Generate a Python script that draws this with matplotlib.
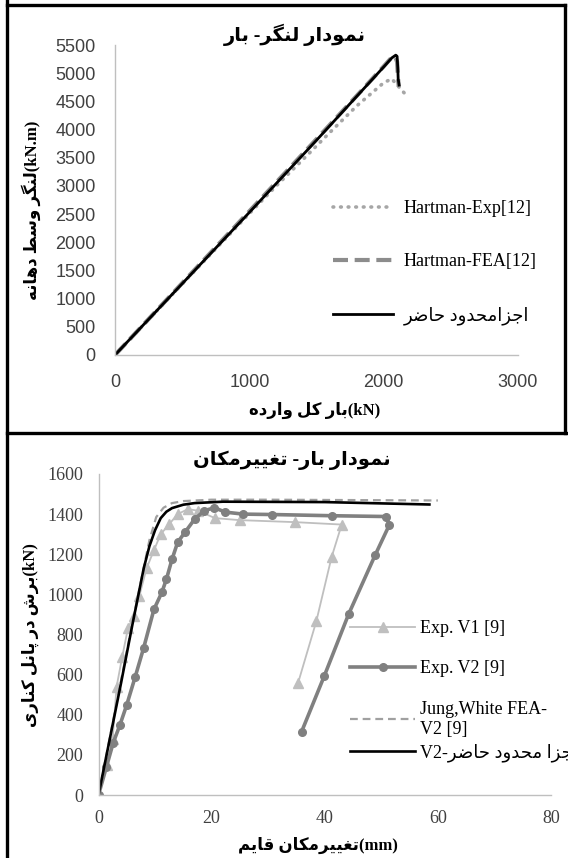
import matplotlib
matplotlib.use('Agg')
import matplotlib.pyplot as plt
from matplotlib.lines import Line2D

# ---- Persian shaping (matplotlib has no bidi / joining) ----
FORMS = {
    'ا': ('\uFE8D', '\uFE8E', None, None),
    'ب': ('\uFE8F', '\uFE90', '\uFE91', '\uFE92'),
    'پ': ('\uFB56', '\uFB57', '\uFB58', '\uFB59'),
    'ت': ('\uFE95', '\uFE96', '\uFE97', '\uFE98'),
    'ج': ('\uFE9D', '\uFE9E', '\uFE9F', '\uFEA0'),
    'ح': ('\uFEA1', '\uFEA2', '\uFEA3', '\uFEA4'),
    'د': ('\uFEA9', '\uFEAA', None, None),
    'ر': ('\uFEAD', '\uFEAE', None, None),
    'ز': ('\uFEAF', '\uFEB0', None, None),
    'س': ('\uFEB1', '\uFEB2', '\uFEB3', '\uFEB4'),
    'ش': ('\uFEB5', '\uFEB6', '\uFEB7', '\uFEB8'),
    'ض': ('\uFEBD', '\uFEBE', '\uFEBF', '\uFEC0'),
    'ط': ('\uFEC1', '\uFEC2', '\uFEC3', '\uFEC4'),
    'غ': ('\uFECD', '\uFECE', '\uFECF', '\uFED0'),
    'ق': ('\uFED5', '\uFED6', '\uFED7', '\uFED8'),
    'ک': ('\uFB8E', '\uFB8F', '\uFB90', '\uFB91'),
    'گ': ('\uFB92', '\uFB93', '\uFB94', '\uFB95'),
    'ل': ('\uFEDD', '\uFEDE', '\uFEDF', '\uFEE0'),
    'م': ('\uFEE1', '\uFEE2', '\uFEE3', '\uFEE4'),
    'ن': ('\uFEE5', '\uFEE6', '\uFEE7', '\uFEE8'),
    'و': ('\uFEED', '\uFEEE', None, None),
    'ه': ('\uFEE9', '\uFEEA', '\uFEEB', '\uFEEC'),
    'ی': ('\uFBFC', '\uFBFD', '\uFBFE', '\uFBFF'),
}


def fa(s):
    out = []
    for i, ch in enumerate(s):
        if ch not in FORMS:
            out.append(ch)
            continue
        prev = s[i - 1] if i > 0 else ''
        nxt = s[i + 1] if i + 1 < len(s) else ''
        jp = prev in FORMS and FORMS[prev][2] is not None
        jn = FORMS[ch][2] is not None and nxt in FORMS
        iso, fin, ini, med = FORMS[ch]
        if jp and jn:
            out.append(med)
        elif jp:
            out.append(fin)
        elif jn:
            out.append(ini)
        else:
            out.append(iso)
    return ''.join(out)[::-1]


# ---- data: moment - load ----
exp_load = [0, 500, 1000, 1200, 1400, 1600, 1800, 2000, 2060, 2175]
exp_moment = [0, 1260, 2510, 3000, 3470, 3950, 4420, 4830, 4900, 4590]
fea_load = [0, 500, 1000, 1500, 1800, 2000, 2060, 2085, 2100, 2106, 2112]
fea_moment = [0, 1275, 2550, 3830, 4600, 5120, 5280, 5300, 5200, 4950, 4760]
now_load = [0, 500, 1000, 1500, 2000, 2060, 2090, 2100, 2105, 2108, 2115]
now_moment = [0, 1265, 2530, 3810, 5110, 5270, 5320, 5300, 5100, 4900, 4790]

# ---- data: load - displacement ----
v1_disp = [0, 1.5, 2.5, 3.2, 4.2, 5.2, 6.2, 7.2, 8.5, 9.8, 11.0, 12.5, 14.0,
           15.8, 17.6, 20.6, 25.0, 34.8, 43.0, 41.2, 38.5, 35.3]
v1_load = [0, 150, 280, 540, 690, 830, 890, 990, 1130, 1220, 1300, 1350, 1400,
           1425, 1417, 1380, 1370, 1360, 1348, 1185, 865, 560]
v2_disp = [0, 1.4, 2.6, 3.8, 5.0, 6.5, 8.0, 9.8, 11.2, 12.0, 13.0, 14.0, 15.3,
           17.0, 18.7, 20.5, 22.4, 25.6, 30.7, 41.3, 50.9, 51.4, 48.9, 44.2,
           39.9, 35.9]
v2_load = [0, 140, 260, 350, 450, 590, 735, 925, 1010, 1075, 1175, 1260, 1310,
           1375, 1417, 1432, 1410, 1400, 1398, 1392, 1388, 1345, 1195, 900,
           592, 315]
jw_disp = [0, 3, 6, 9, 10.2, 11.5, 13, 15, 20, 30, 45, 60]
jw_load = [0, 430, 860, 1270, 1385, 1432, 1455, 1465, 1472, 1472, 1470, 1468]
nw_disp = [0, 2, 4, 6, 8, 9, 10, 11, 12, 13, 15, 17, 22, 40, 58.5]
nw_load = [0, 280, 560, 850, 1130, 1240, 1320, 1380, 1412, 1430, 1447, 1455,
           1462, 1460, 1448]

top_xticks = [0, 1000, 2000, 3000]
top_yticks = list(range(0, 5501, 500))
bot_xticks = [0, 20, 40, 60, 80]
bot_yticks = list(range(0, 1601, 200))

W, H = 568, 858
fig = plt.figure(figsize=(W / 100, H / 100), dpi=100)

MIX = ['Liberation Serif', 'DejaVu Sans']
TICK = '#404040'


def px(x, y):
    return x / W, 1 - y / H


def style(ax, tickfont, size, pad):
    for s in ('top', 'right'):
        ax.spines[s].set_visible(False)
    for s in ('left', 'bottom'):
        ax.spines[s].set_color('#bfbfbf')
        ax.spines[s].set_linewidth(1.0)
    ax.tick_params(length=0, pad=pad, labelcolor=TICK)
    for lab in ax.get_xticklabels() + ax.get_yticklabels():
        lab.set_family(tickfont)
        lab.set_fontsize(size)


# ---------------- top chart ----------------
ax1 = fig.add_axes([115 / W, 1 - 355 / H, 403 / W, 310 / H])
ax1.plot(exp_load, exp_moment, color='#a6a6a6', lw=2.6,
         ls=(0, (0.2, 1.9)), dash_capstyle='round', label='Hartman-Exp[12]')
ax1.plot(fea_load, fea_moment, color='#8c8c8c', lw=3.0,
         ls=(0, (3.6, 1.6)), label='Hartman-FEA[12]')
ax1.plot(now_load, now_moment, color='black', lw=2.0,
         label=fa('اجزامحدود حاضر'))
ax1.set_xlim(0, 3000)
ax1.set_ylim(0, 5500)
ax1.set_xticks(top_xticks)
ax1.set_yticks(top_yticks)
style(ax1, 'Liberation Sans', 13, 14)
ax1.legend(loc='upper left', bbox_to_anchor=px(333, 200),
           bbox_transform=fig.transFigure, frameon=False,
           prop={'family': MIX, 'size': 13}, handlelength=3.3,
           handletextpad=0.6, labelspacing=2.0, borderpad=0, borderaxespad=0)

fig.text(*px(295, 35), fa('نمودار لنگر- بار'), ha='center', va='center',
         family=MIX, weight='bold', fontsize=14)
fig.text(*px(315, 410), fa('بار کل وارده') + '(kN)', ha='center',
         va='center', family=MIX, weight='bold', fontsize=12)
fig.text(*px(31, 210), fa('لنگر وسط دهانه') + '(kN.m)', ha='center',
         va='center', rotation=90, family=MIX, weight='bold', fontsize=12)

# ---------------- bottom chart ----------------
ax2 = fig.add_axes([98.5 / W, 1 - 795 / H, 452.5 / W, 321 / H])
l1, = ax2.plot(v1_disp, v1_load, color='#bfbfbf', lw=1.3, marker='^', ms=7.5,
               label='Exp. V1 [9]')
l2, = ax2.plot(v2_disp, v2_load, color='#808080', lw=2.6, marker='o', ms=5.5,
               label='Exp. V2 [9]')
l3, = ax2.plot(jw_disp, jw_load, color='#a0a0a0', lw=1.6, ls=(0, (3.5, 2.2)),
               label='Jung,White FEA-\nV2 [9]')
l4, = ax2.plot(nw_disp, nw_load, color='black', lw=1.9,
               label='V2-' + fa('اجزا محدود حاضر'))
ax2.set_xlim(0, 80)
ax2.set_ylim(0, 1600)
ax2.set_xticks(bot_xticks)
ax2.set_yticks(bot_yticks)
style(ax2, 'Liberation Serif', 13, 11)

leg_kw = dict(loc='upper left', bbox_transform=fig.transFigure, frameon=False,
              prop={'family': MIX, 'size': 13}, handlelength=3.6,
              handletextpad=0.3, borderpad=0, borderaxespad=0)
leg2a = ax2.legend(handles=[l1, l2, l3], bbox_to_anchor=px(350, 620),
                   labelspacing=1.3, **leg_kw)
for t in leg2a.get_texts():
    t.set_linespacing(1.2)
ax2.add_artist(leg2a)
ax2.legend(handles=[l4], bbox_to_anchor=px(350, 743), **leg_kw)

fig.text(*px(292, 460), fa('نمودار بار- تغییرمکان'), ha='center',
         va='center', family=MIX, weight='bold', fontsize=14)
fig.text(*px(318, 845), fa('تغییرمکان قایم') + '(mm)', ha='center',
         va='center', family=MIX, weight='bold', fontsize=12)
fig.text(*px(30, 635), fa('برش در پانل کناری') + '(kN)', ha='center',
         va='center', rotation=90, family=MIX, weight='bold', fontsize=12)

# ---------------- frames ----------------
for xs, ys in [((6.5, 6.5), (0, H)), ((6.5, 565), (5, 5)),
               ((565, 565), (5, 433)), ((6.5, W), (433, 433))]:
    fig.add_artist(Line2D([x / W for x in xs], [1 - y / H for y in ys],
                          transform=fig.transFigure, color='black', lw=2.4))

fig.savefig('out.png', dpi=100)
